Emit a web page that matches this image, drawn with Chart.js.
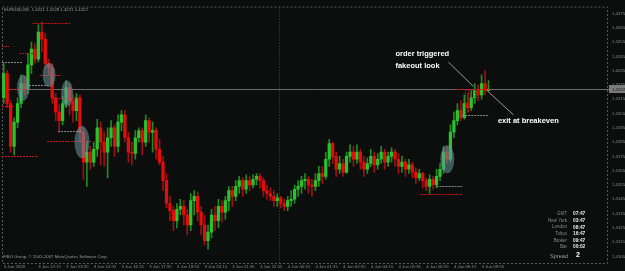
<!DOCTYPE html>
<html>
<head>
<meta charset="utf-8">
<script src="https://cdn.jsdelivr.net/npm/chart.js@4"></script>
<style>
  html, body { margin: 0; padding: 0; background: #0c0e0e; }
  #wrap { width: 625px; height: 271px; }
</style>
</head>
<body>
<div id="wrap"><canvas id="myChart"></canvas></div>
<script>
const header = "EURUSD,M5  1.4221 1.4228 1.4221 1.4222"
const firstOpen = 1.4216
const closes = [
  1.4233, 1.4212, 1.4182, 1.4199, 1.4212, 1.4226, 1.4222, 1.4239, 1.4250, 1.4243,
  1.4262, 1.4257, 1.4240, 1.4237, 1.4216, 1.4206, 1.4200, 1.4212, 1.4223, 1.4214,
  1.4207, 1.4216, 1.4192, 1.4171, 1.4178, 1.4171, 1.4180, 1.4195, 1.4185, 1.4178,
  1.4188, 1.4195, 1.4182, 1.4199, 1.4204, 1.4188, 1.4178, 1.4177, 1.4188, 1.4193,
  1.4185, 1.4200, 1.4192, 1.4193, 1.4180, 1.4171, 1.4158, 1.4142, 1.4137, 1.4130,
  1.4138, 1.4140, 1.4134, 1.4127, 1.4144, 1.4147, 1.4136, 1.4127, 1.4116, 1.4122,
  1.4134, 1.4130, 1.4140, 1.4136, 1.4144, 1.4151, 1.4147, 1.4154, 1.4158, 1.4152,
  1.4158, 1.4155, 1.4159, 1.4161, 1.4158, 1.4151, 1.4149, 1.4147, 1.4144, 1.4146,
  1.4142, 1.4140, 1.4144, 1.4145, 1.4152, 1.4154, 1.4158, 1.4159, 1.4155, 1.4154,
  1.4158, 1.4163, 1.4161, 1.4173, 1.4184, 1.4175, 1.4166, 1.4170, 1.4164, 1.4175,
  1.4178, 1.4173, 1.4178, 1.4171, 1.4166, 1.4170, 1.4175, 1.4169, 1.4173, 1.4178,
  1.4171, 1.4175, 1.4178, 1.4173, 1.4168, 1.4171, 1.4166, 1.4169, 1.4164, 1.4160,
  1.4163, 1.4158, 1.4154, 1.4159, 1.4155, 1.4161, 1.4166, 1.4178, 1.4173, 1.4192,
  1.4200, 1.4207, 1.4202, 1.4212, 1.4209, 1.4216, 1.4221, 1.4218, 1.4226, 1.4221,
  1.4222
]
const highs = [
  1.4240, 1.4235, 1.4214, 1.4202, 1.4216, 1.4232, 1.4231, 1.4247, 1.4255, 1.4254,
  1.4267, 1.4269, 1.4261, 1.4243, 1.4240, 1.4219, 1.4211, 1.4217, 1.4228, 1.4226,
  1.4218, 1.4219, 1.4218, 1.4195, 1.4185, 1.4182, 1.4185, 1.4201, 1.4199, 1.4192,
  1.4195, 1.4200, 1.4197, 1.4204, 1.4207, 1.4207, 1.4192, 1.4185, 1.4193, 1.4195,
  1.4195, 1.4204, 1.4202, 1.4199, 1.4195, 1.4187, 1.4175, 1.4163, 1.4147, 1.4140,
  1.4142, 1.4145, 1.4144, 1.4138, 1.4149, 1.4151, 1.4150, 1.4140, 1.4134, 1.4127,
  1.4138, 1.4140, 1.4145, 1.4144, 1.4147, 1.4154, 1.4154, 1.4158, 1.4161, 1.4160,
  1.4162, 1.4161, 1.4162, 1.4163, 1.4163, 1.4160, 1.4155, 1.4153, 1.4151, 1.4149,
  1.4147, 1.4145, 1.4147, 1.4151, 1.4155, 1.4158, 1.4161, 1.4163, 1.4161, 1.4159,
  1.4163, 1.4168, 1.4168, 1.4178, 1.4187, 1.4185, 1.4178, 1.4175, 1.4173, 1.4178,
  1.4183, 1.4182, 1.4183, 1.4180, 1.4175, 1.4174, 1.4180, 1.4178, 1.4177, 1.4182,
  1.4180, 1.4178, 1.4181, 1.4180, 1.4177, 1.4175, 1.4173, 1.4173, 1.4171, 1.4167,
  1.4166, 1.4164, 1.4160, 1.4162, 1.4161, 1.4166, 1.4170, 1.4182, 1.4182, 1.4197,
  1.4206, 1.4212, 1.4214, 1.4218, 1.4219, 1.4221, 1.4226, 1.4225, 1.4232, 1.4235,
  1.4228
]
const lows = [
  1.4212, 1.4209, 1.4178, 1.4176, 1.4195, 1.4209, 1.4218, 1.4219, 1.4233, 1.4240,
  1.4241, 1.4248, 1.4236, 1.4232, 1.4212, 1.4200, 1.4192, 1.4197, 1.4209, 1.4204,
  1.4199, 1.4200, 1.4185, 1.4159, 1.4154, 1.4166, 1.4168, 1.4175, 1.4169, 1.4168,
  1.4160, 1.4182, 1.4175, 1.4178, 1.4193, 1.4185, 1.4171, 1.4169, 1.4173, 1.4185,
  1.4176, 1.4182, 1.4185, 1.4178, 1.4173, 1.4169, 1.4151, 1.4139, 1.4130, 1.4123,
  1.4125, 1.4134, 1.4127, 1.4120, 1.4123, 1.4134, 1.4130, 1.4120, 1.4113, 1.4110,
  1.4118, 1.4123, 1.4125, 1.4129, 1.4131, 1.4137, 1.4140, 1.4144, 1.4149, 1.4147,
  1.4149, 1.4151, 1.4153, 1.4155, 1.4153, 1.4147, 1.4145, 1.4144, 1.4140, 1.4140,
  1.4139, 1.4137, 1.4137, 1.4140, 1.4142, 1.4147, 1.4149, 1.4152, 1.4149, 1.4147,
  1.4151, 1.4154, 1.4156, 1.4159, 1.4168, 1.4170, 1.4161, 1.4163, 1.4161, 1.4163,
  1.4171, 1.4168, 1.4170, 1.4166, 1.4161, 1.4163, 1.4168, 1.4164, 1.4166, 1.4170,
  1.4166, 1.4168, 1.4171, 1.4168, 1.4163, 1.4164, 1.4161, 1.4163, 1.4160, 1.4156,
  1.4158, 1.4153, 1.4151, 1.4149, 1.4152, 1.4153, 1.4158, 1.4163, 1.4170, 1.4171,
  1.4188, 1.4197, 1.4200, 1.4201, 1.4206, 1.4207, 1.4212, 1.4214, 1.4215, 1.4218,
  1.4221
]
const priceTicks = [1.4105, 1.4115, 1.4125, 1.4135, 1.4145, 1.4155, 1.4165, 1.4175, 1.4185,
  1.4195, 1.4205, 1.4215, 1.4225, 1.4235, 1.4245, 1.4255, 1.4265, 1.4275]
const timeLabels = ["3 Jun 2009", "3 Jun 12:15", "3 Jun 13:35", "3 Jun 14:55", "3 Jun 16:15",
  "3 Jun 17:35", "3 Jun 18:55", "3 Jun 20:15", "3 Jun 21:35", "3 Jun 22:55", "4 Jun 00:15",
  "4 Jun 01:35", "4 Jun 02:55", "4 Jun 04:15", "4 Jun 05:35", "4 Jun 06:55", "4 Jun 08:15", "4 Jun 09:35"]

// drawn levels: price, first bar, last bar, kind (r = red, d = dark red, g = grey)
const levelPrice = [1.4268, 1.4252, 1.4241, 1.4247, 1.4232, 1.4225, 1.4222, 1.4210, 1.4216, 1.4193, 1.4186, 1.4175, 1.4222, 1.4204, 1.4154, 1.4149]
const levelFrom = [8.4, -0.5, -0.5, 4.4, 10.5, 7.3, 1.8, -0.5, 14.2, 15.7, 12.5, -0.5, 130.4, 132.4, 125, 120.3]
const levelTo = [19.2, 1.5, 5.3, 8.5, 16.6, 12.8, 7.3, 3, 22.6, 22.6, 25.2, 10, 140.6, 140, 132.4, 132.4]
const levelKind = ["r", "r", "g", "d", "r", "g", "r", "r", "r", "g", "r", "r", "r", "g", "g", "r"]
const dropBar = [133.3, 134.2, 136.2]
const dropLow = [1.4203, 1.4205, 1.4212]

// highlighted spots (bar, price)
const spotBar = [5.6, 13.1, 18.3, 22.6, 128.1]
const spotPrice = [1.4223, 1.4232, 1.4219, 1.4185, 1.4173]

const notes = ["order triggered", "fakeout look", "exit at breakeven"]
const noteBar = [113.1, 113.1, 142.7]
const notePrice = [1.4247, 1.4238, 1.4200]
const pointerFrom = [[128.4, 1.4241], [139.6, 1.4221]]
const pointerTo = [[135.6, 1.4224], [147.2, 1.4204]]

const zones = ["GMT", "New York", "London", "Tokyo", "Broker", "Bar"]
const zoneTimes = ["07:47", "03:47", "08:47", "16:47", "09:47", "00:02"]
const spread = "2"
const copyright = "FIBO Group, \u00a9 2001-2007 MetaQuotes Software Corp."
const bid = closes[closes.length - 1]
const separatorBar = 79.5
const slotCount = 175

const font = "'Liberation Sans', Arial, sans-serif"
const grey = "#8c8c8c"

const opens = closes.map((c, i) => (i === 0 ? firstOpen : closes[i - 1]))
const up = closes.map((c, i) => c >= opens[i])
const slots = Array.from({ length: slotCount }, (_, i) => String(i))

function hline(ctx, x1, x2, y) {
  ctx.beginPath()
  ctx.moveTo(x1, y)
  ctx.lineTo(x2, y)
  ctx.stroke()
}

const overlay = {
  id: "overlay",
  beforeDraw(chart) {
    const { ctx, width, height } = chart
    ctx.save()
    ctx.fillStyle = "#0c0e0e"
    ctx.fillRect(0, 0, width, height)
    ctx.restore()
  },
  beforeDatasetsDraw(chart) {
    const { ctx, chartArea: a, scales: { x, y } } = chart
    ctx.save()
    ctx.lineWidth = 1
    // plot frame
    ctx.strokeStyle = "#5c5c5c"
    ctx.setLineDash([2, 2])
    ctx.strokeRect(a.left + 0.5, a.top + 0.5, a.right - a.left - 1, a.bottom - a.top)
    // day separator
    ctx.strokeStyle = "#4a4a4a"
    ctx.setLineDash([1, 2])
    const sx = Math.round(x.getPixelForValue(separatorBar)) + 0.5
    ctx.beginPath()
    ctx.moveTo(sx, a.top)
    ctx.lineTo(sx, a.bottom)
    ctx.stroke()
    // bid line
    ctx.setLineDash([])
    ctx.strokeStyle = "#6a6a6a"
    hline(ctx, a.left, chart.width, Math.round(y.getPixelForValue(bid)) + 0.5)
    ctx.restore()
  },
  afterDatasetsDraw(chart) {
    const { ctx, chartArea: a, scales: { x, y } } = chart
    ctx.save()
    ctx.lineWidth = 1

    // levels
    ctx.setLineDash([2, 1])
    levelPrice.forEach((p, i) => {
      ctx.strokeStyle = levelKind[i] === "g" ? "#8a8a8a" : levelKind[i] === "d" ? "#8a2a10" : "#d01010"
      hline(ctx, Math.max(a.left, x.getPixelForValue(levelFrom[i])), x.getPixelForValue(levelTo[i]),
        Math.round(y.getPixelForValue(p)) + 0.5)
    })
    ctx.strokeStyle = "#c01010"
    dropBar.forEach((b, i) => {
      const px = Math.round(x.getPixelForValue(b)) + 0.5
      ctx.beginPath()
      ctx.moveTo(px, y.getPixelForValue(bid))
      ctx.lineTo(px, y.getPixelForValue(dropLow[i]))
      ctx.stroke()
    })
    ctx.setLineDash([])

    // highlight ellipses
    ctx.fillStyle = "rgba(105, 150, 160, 0.55)"
    const radii = [[6, 13], [6.5, 12], [6, 13], [7.5, 16], [7, 14]]
    spotBar.forEach((b, i) => {
      ctx.beginPath()
      ctx.ellipse(x.getPixelForValue(b), y.getPixelForValue(spotPrice[i]), radii[i][0], radii[i][1], 0, 0, Math.PI * 2)
      ctx.fill()
    })

    // pointers
    ctx.strokeStyle = "#9a9a9a"
    pointerFrom.forEach((f, i) => {
      ctx.beginPath()
      ctx.moveTo(x.getPixelForValue(f[0]), y.getPixelForValue(f[1]))
      ctx.lineTo(x.getPixelForValue(pointerTo[i][0]), y.getPixelForValue(pointerTo[i][1]))
      ctx.stroke()
    })

    // notes
    ctx.fillStyle = "#ffffff"
    ctx.font = "bold 7.5px " + font
    ctx.textBaseline = "middle"
    ctx.textAlign = "left"
    notes.forEach((t, i) => ctx.fillText(t, x.getPixelForValue(noteBar[i]), y.getPixelForValue(notePrice[i])))

    // header and copyright
    ctx.font = "4.3px " + font
    ctx.fillStyle = "#9a9a9a"
    ctx.fillText(header, a.left + 2, a.top + 3)
    ctx.fillText(copyright, a.left + 1, a.bottom - 6)

    // clock panel
    zones.forEach((z, i) => {
      const ry = a.bottom - 49 + i * 6.6
      ctx.font = "4.5px " + font
      ctx.fillStyle = "#8a8a8a"
      ctx.textAlign = "right"
      ctx.fillText(z, a.right - 41, ry)
      ctx.font = "bold 4.8px " + font
      ctx.fillStyle = "#e8e8e8"
      ctx.textAlign = "left"
      ctx.fillText(zoneTimes[i], a.right - 35, ry)
    })
    ctx.font = "5.6px " + font
    ctx.fillStyle = "#9a9a9a"
    ctx.textAlign = "right"
    ctx.fillText("Spread", a.right - 40, a.bottom - 7)
    ctx.font = "bold 7px " + font
    ctx.fillStyle = "#ffffff"
    ctx.textAlign = "left"
    ctx.fillText(spread, a.right - 32, a.bottom - 7.5)

    // bid price box
    const by = Math.round(y.getPixelForValue(bid))
    ctx.fillStyle = "#7c7c7c"
    ctx.fillRect(a.right + 1, by - 4, chart.width - a.right - 1, 8)
    ctx.fillStyle = "#101010"
    ctx.font = "4.3px " + font
    ctx.fillText(bid.toFixed(4), a.right + 4, by + 0.5)
    ctx.restore()
  }
}

const config = {
  type: "bar",
  data: {
    labels: slots,
    datasets: [
      {
        data: closes.map((c, i) => [Math.min(opens[i], c), Math.max(opens[i], c)]),
        backgroundColor: up.map(u => (u ? "#2cc22c" : "#e60c0c")),
        barThickness: 2.6,
        minBarLength: 1,
        grouped: false,
        order: 1
      },
      {
        data: closes.map((c, i) => [lows[i], highs[i]]),
        backgroundColor: up.map(u => (u ? "#1e8c1e" : "#a01010")),
        barThickness: 1,
        grouped: false,
        order: 2
      }
    ]
  },
  options: {
    animation: false,
    responsive: true,
    maintainAspectRatio: false,
    layout: { padding: { left: 2, top: 2, right: 0, bottom: 0 } },
    plugins: { legend: { display: false }, tooltip: { enabled: false } },
    scales: {
      x: {
        type: "category",
        offset: true,
        grid: { display: false, drawTicks: false },
        border: { display: false },
        ticks: {
          autoSkip: false,
          maxRotation: 0,
          align: "start",
          padding: 1,
          color: grey,
          font: { size: 4.3, family: font },
          callback: (v, i) => {
            if (i === 0) return timeLabels[0]
            if (i >= 10 && (i - 10) % 8 === 0) {
              const k = (i - 10) / 8 + 1
              return k < timeLabels.length ? timeLabels[k] : ""
            }
            return ""
          }
        },
        afterFit: s => { s.height = 8 }
      },
      y: {
        position: "right",
        min: 1.41004,
        max: 1.42798,
        grid: { display: false, drawTicks: false },
        border: { display: false },
        afterBuildTicks: s => { s.ticks = priceTicks.map(v => ({ value: v })) },
        ticks: {
          padding: 4,
          color: grey,
          font: { size: 4.3, family: font },
          callback: v => v.toFixed(4)
        },
        afterFit: s => { s.width = 17 }
      }
    }
  },
  plugins: [overlay]
}

const myChart = new Chart(document.getElementById("myChart"), config)
</script>
</body>
</html>
